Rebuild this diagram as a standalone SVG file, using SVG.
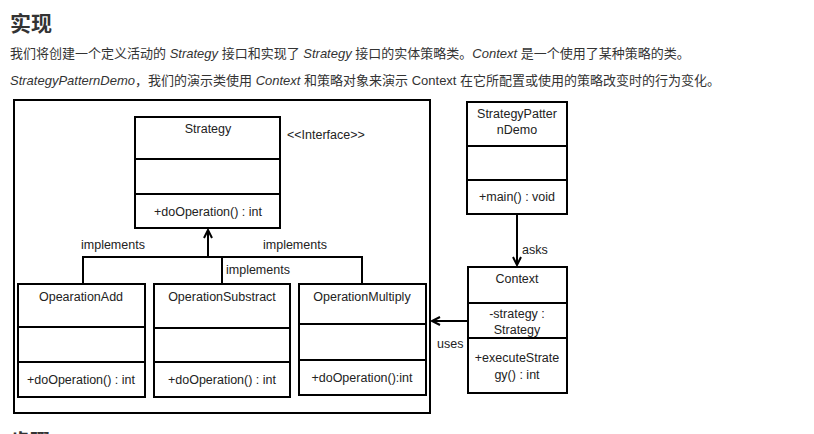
<svg xmlns="http://www.w3.org/2000/svg" width="814" height="434" viewBox="0 0 814 434">
<defs>
<marker id="arr" markerUnits="userSpaceOnUse" markerWidth="12" markerHeight="12" refX="9" refY="5" orient="auto">
<path d="M1,1 L9,5 L1,9" fill="none" stroke="#000" stroke-width="2"/>
</marker>
<style>
.hd{font-family:"Liberation Sans","Noto Sans CJK SC",sans-serif;fill:#333}
.it{font-style:italic}
.box{fill:#fff;stroke:#000;stroke-width:2}
.dv{stroke:#000;stroke-width:2}
.t{font-family:"Liberation Sans",sans-serif;font-size:12.5px;fill:#222;text-anchor:middle}
.l{font-family:"Liberation Sans",sans-serif;font-size:12.5px;fill:#222}
.cn{fill:none;stroke:#000;stroke-width:2}
</style>
</defs>
<rect width="814" height="434" fill="#fff"/>
<text class="hd" x="10" y="31" font-size="21" font-weight="bold">实现</text>
<text class="hd" x="10" y="58" font-size="13">我们将创建一个定义活动的 <tspan class="it">Strategy</tspan> 接口和实现了 <tspan class="it">Strategy</tspan> 接口的实体策略类。<tspan class="it">Context</tspan> 是一个使用了某种策略的类。</text>
<text class="hd" x="10" y="85" font-size="13"><tspan class="it">StrategyPatternDemo</tspan>，我们的演示类使用 <tspan class="it">Context</tspan> 和策略对象来演示 Context 在它所配置或使用的策略改变时的行为变化。</text>
<text class="hd" x="10" y="449" font-size="20" font-weight="bold">步骤 1</text>

<rect id="frame" x="14" y="100" width="416" height="313" fill="none" stroke="#000" stroke-width="2"/>

<g id="strategy">
<rect class="box" x="135" y="117" width="145" height="111"/>
<line class="dv" x1="135" y1="159" x2="280" y2="159"/>
<line class="dv" x1="135" y1="194" x2="280" y2="194"/>
<text class="t" x="208" y="133">Strategy</text>
<text class="t" x="208" y="216">+doOperation() : int</text>
<text class="l" x="287" y="139">&lt;&lt;Interface&gt;&gt;</text>
</g>

<g id="operationAdd">
<rect class="box" x="18" y="284" width="127" height="113"/>
<line class="dv" x1="18" y1="327" x2="145" y2="327"/>
<line class="dv" x1="18" y1="362" x2="145" y2="362"/>
<text class="t" x="81" y="301">OpearationAdd</text>
<text class="t" x="81" y="384">+doOperation() : int</text>
</g>

<g id="operationSubstract">
<rect class="box" x="154" y="284" width="136" height="113"/>
<line class="dv" x1="154" y1="328" x2="290" y2="328"/>
<line class="dv" x1="154" y1="362" x2="290" y2="362"/>
<text class="t" x="222" y="301">OperationSubstract</text>
<text class="t" x="222" y="384">+doOperation() : int</text>
</g>

<g id="operationMultiply">
<rect class="box" x="299" y="284" width="127" height="111"/>
<line class="dv" x1="299" y1="324" x2="426" y2="324"/>
<line class="dv" x1="299" y1="360" x2="426" y2="360"/>
<text class="t" x="362" y="301">OperationMultiply</text>
<text class="t" x="362" y="382">+doOperation():int</text>
</g>

<g id="strategyPatternDemo">
<rect class="box" x="467" y="102" width="100" height="112"/>
<line class="dv" x1="467" y1="146" x2="567" y2="146"/>
<line class="dv" x1="467" y1="180" x2="567" y2="180"/>
<text class="t" x="517" y="118">StrategyPatter</text>
<text class="t" x="517" y="134">nDemo</text>
<text class="t" x="517" y="201">+main() : void</text>
</g>

<g id="context">
<rect class="box" x="468" y="267" width="99" height="126"/>
<line class="dv" x1="468" y1="303" x2="567" y2="303"/>
<line class="dv" x1="468" y1="338" x2="567" y2="338"/>
<text class="t" x="517" y="283">Context</text>
<text class="t" x="517" y="318">-strategy :</text>
<text class="t" x="517" y="334">Strategy</text>
<text class="t" x="517" y="362">+executeStrate</text>
<text class="t" x="517" y="379">gy() : int</text>
</g>

<g id="connectors">
<path class="cn" d="M208,257 V230" marker-end="url(#arr)"/>
<path class="cn" d="M83,284 V257 H362 V284"/>
<path class="cn" d="M222,257 V284"/>
<path class="cn" d="M517,214 V265" marker-end="url(#arr)"/>
<path class="cn" d="M468,321 H432" marker-end="url(#arr)"/>
<text class="l" x="81" y="249">implements</text>
<text class="l" x="263" y="249">implements</text>
<text class="l" x="226" y="274">implements</text>
<text class="l" x="522" y="254">asks</text>
<text class="l" x="437" y="348">uses</text>
</g>
</svg>
